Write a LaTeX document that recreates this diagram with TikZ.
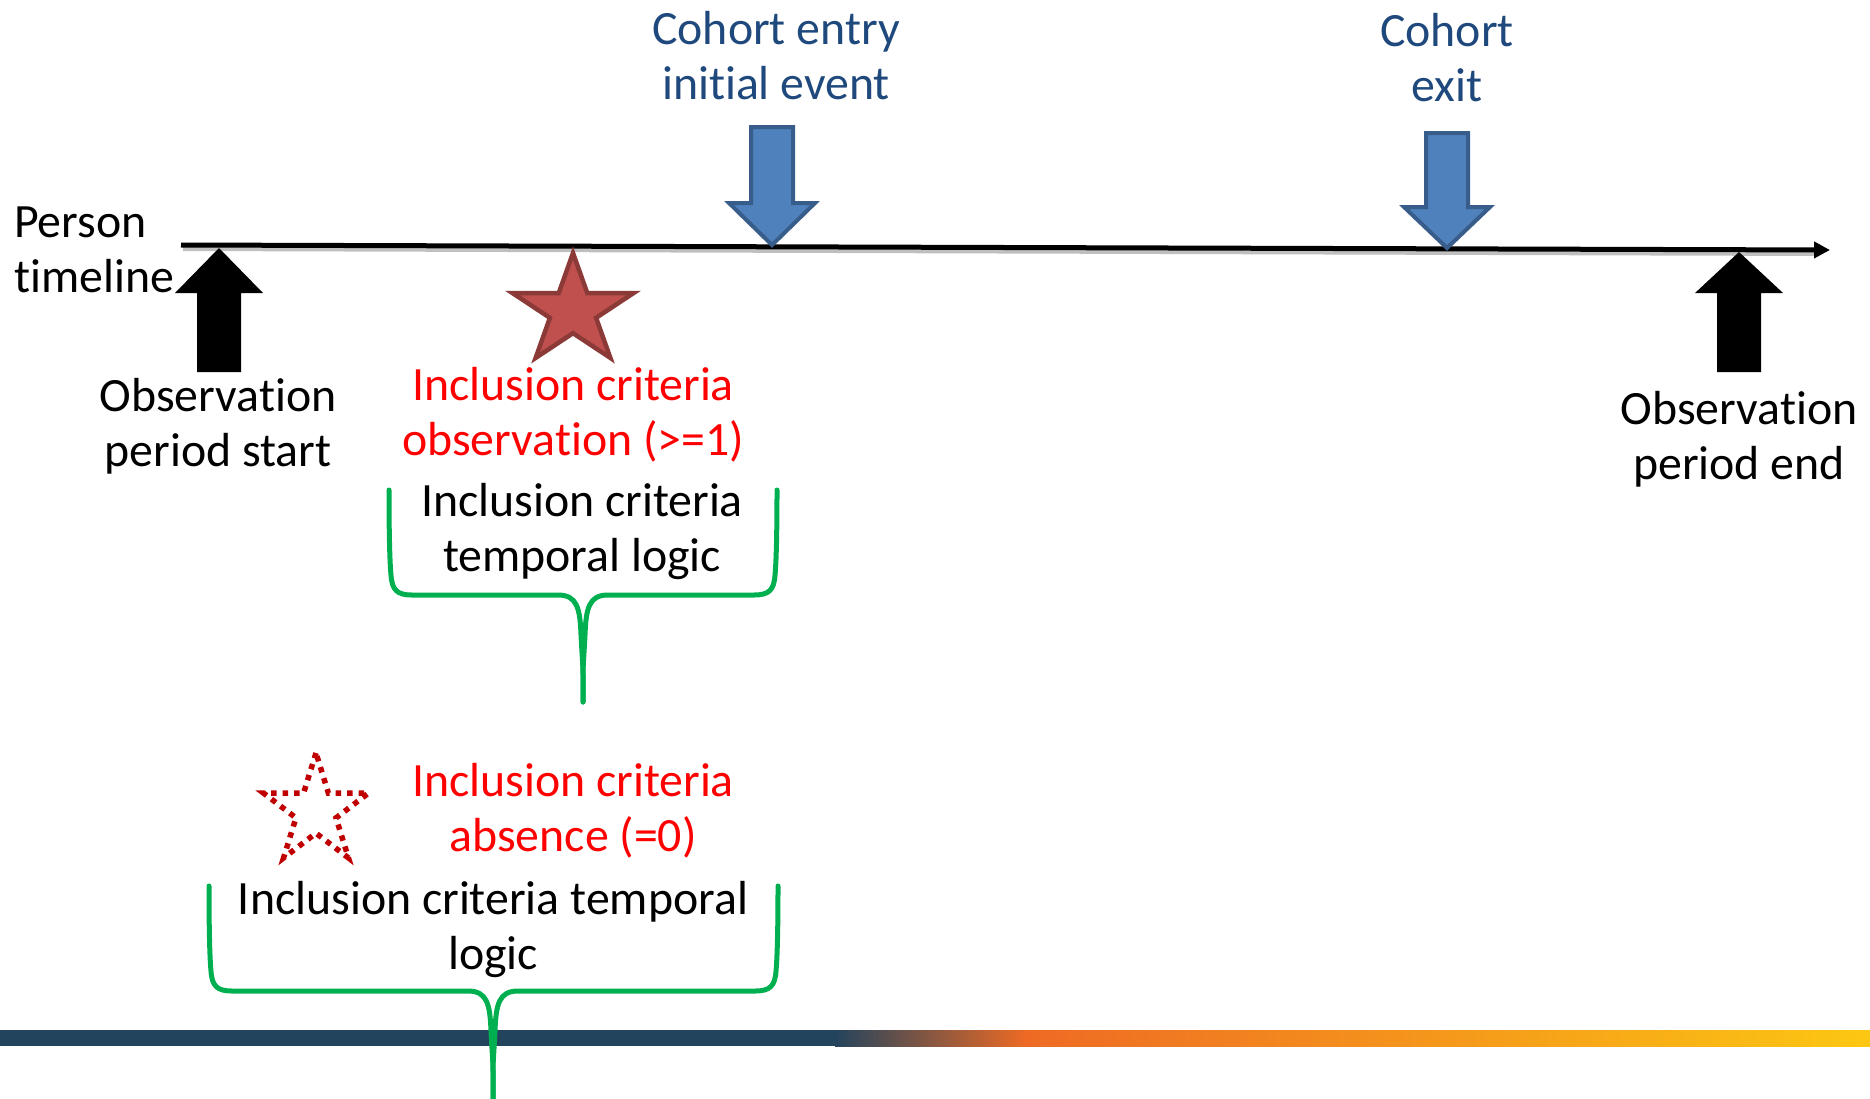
\documentclass[tikz,border=0pt]{standalone}
\usepackage{fontspec}
\setmainfont{Carlito}[Ligatures=NoCommon]
\usetikzlibrary{arrows.meta}
\definecolor{txtblue}{HTML}{1F497D}
\definecolor{arrfill}{HTML}{4F81BD}
\definecolor{arrdraw}{HTML}{385D8A}
\definecolor{starfill}{HTML}{C0504D}
\definecolor{stardraw}{HTML}{8C3A38}
\definecolor{dotred}{HTML}{C00000}
\definecolor{brgreen}{HTML}{00B050}
\definecolor{bardark}{HTML}{23445D}
\definecolor{barorange}{HTML}{EE6A24}
\definecolor{baryellow}{HTML}{FCC712}
\tikzset{
  lbl/.style={inner sep=0pt, align=center, font=\fontsize{47.8}{55}\selectfont},
  bluelbl/.style={lbl, text=txtblue},
  redlbl/.style={lbl, text=red},
  blacklbl/.style={lbl, text=black},
  bluearrow/.style={fill=arrfill, draw=arrdraw, line width=4pt, line join=miter},
  blackarrow/.style={fill=black, draw=none},
  bracestyle/.style={draw=brgreen, line width=5pt, line cap=round, line join=round},
}
\begin{document}
\begin{tikzpicture}[x=1pt, y=-1pt]
\useasboundingbox (0,0) rectangle (1870,1098);
% bottom bar
\fill[bardark] (0,1030) rectangle (836,1046);
\fill[left color=bardark, right color=barorange] (835,1030) rectangle (1027,1046);
\fill[left color=barorange, right color=baryellow] (1026,1030) rectangle (1870,1046);
% timeline
\coordinate (tl0) at (181,245);
\coordinate (tl1) at (1830,250);
\draw[black!25, line width=4pt] ([shift={(2,4)}]tl0) -- ([shift={(-14,4)}]tl1);
\draw[line width=5pt, -{Triangle[length=16pt,width=16pt]}] (tl0) -- (tl1);
% black up arrows
\fill[blackarrow] (219,248) -- (263,293) -- (241,293) -- (241,372) -- (197,372) -- (197,293) -- (175,293) -- cycle;
\fill[blackarrow] (1739,252) -- (1783,293) -- (1761,293) -- (1761,372) -- (1717,372) -- (1717,293) -- (1695,293) -- cycle;
% blue down arrows
\draw[bluearrow] (772,245) -- (815,203) -- (793,203) -- (793,127) -- (751,127) -- (751,203) -- (729,203) -- cycle;
\draw[bluearrow] (1447,248) -- (1490,207) -- (1468,207) -- (1468,133) -- (1426,133) -- (1426,207) -- (1404,207) -- cycle;
% solid star
\begin{scope}[shift={(573,311)}, xscale=63.6, yscale=-58]
\draw[fill=starfill, draw=stardraw, line width=4.5pt, line join=miter]
  (90:1) -- (126:0.382) -- (162:1) -- (198:0.382) -- (234:1) -- (270:0.382) -- (306:1) -- (342:0.382) -- (18:1) -- (54:0.382) -- cycle;
\end{scope}
% dotted star
\begin{scope}[shift={(316,811)}, xscale=55.2, yscale=-58]
\draw[draw=dotred, line width=5.5pt, dash pattern=on 5.5pt off 6pt, line cap=butt]
  (90:1) -- (126:0.382) -- (162:1) -- (198:0.382) -- (234:1) -- (270:0.382) -- (306:1) -- (342:0.382) -- (18:1) -- (54:0.382) -- cycle;
\end{scope}
% braces
\coordinate (b1tip) at (583,702);
\draw[bracestyle] (389,490) .. controls (389,540) and (390,565) .. (391,575) .. controls (392,590) and (397,595) .. (412,595) -- (558,595)
  .. controls (577,595) and (580,608) .. (581,635) .. controls (582,655) and (583,665) .. (583,675) -- (b1tip);
\draw[bracestyle] (777,490) .. controls (777,540) and (776,565) .. (775,575) .. controls (774,590) and (769,595) .. (754,595) -- (608,595)
  .. controls (589,595) and (586,608) .. (585,635) .. controls (584,655) and (583,665) .. (583,675) -- (b1tip);
\coordinate (b2tip) at (493,1100);
\draw[bracestyle] (209,886) .. controls (209,936) and (210,961) .. (211,971) .. controls (212,986) and (217,991) .. (232,991) -- (468,991)
  .. controls (487,991) and (490,1004) .. (491,1031) .. controls (492,1051) and (493,1061) .. (493,1071) -- (b2tip);
\draw[bracestyle] (778,886) .. controls (778,936) and (777,961) .. (776,971) .. controls (775,986) and (770,991) .. (755,991) -- (518,991)
  .. controls (499,991) and (496,1004) .. (495,1031) .. controls (494,1051) and (493,1061) .. (493,1071) -- (b2tip);
% labels
\node[bluelbl] (entry) at (776,56) {Cohort entry\\initial event};
\node[bluelbl] (exit) at (1447,58) {Cohort\\exit};
\node[blacklbl, align=left, anchor=west] (person) at (14,250) {Person\\timeline};
\node[blacklbl] (obsstart) at (218,426) {Observation\\period start};
\node[redlbl] (inclobs) at (573,415) {Inclusion criteria\\observation (>=1)};
\node[blacklbl] (temp1) at (582,532) {Inclusion criteria\\temporal logic};
\node[blacklbl] (obsend) at (1739,439) {Observation\\period end};
\node[redlbl] (inclabs) at (573,811) {Inclusion criteria\\absence (=0)};
\node[blacklbl] (temp2) at (493,929) {Inclusion criteria temporal\\logic};
\end{tikzpicture}
\end{document}
